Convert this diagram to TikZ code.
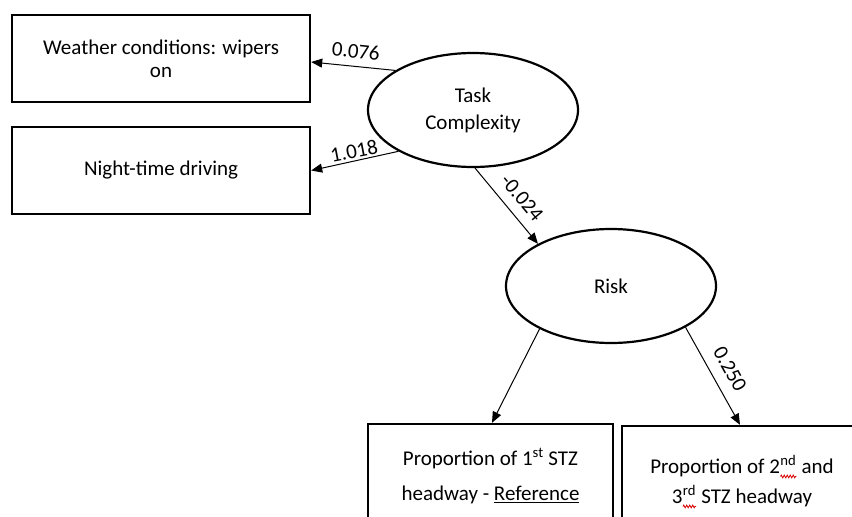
\documentclass[tikz,border=0pt]{standalone}
\usepackage{fontspec}
\setmainfont{Carlito}
\usetikzlibrary{shapes.geometric,arrows.meta,decorations.pathmorphing}

% superscript with a red spell-check wave under it
\newcommand\typomark[1]{\tikz[baseline=(tm.base)]{%
  \node[rectangle,draw=none,inner sep=0pt,outer sep=0pt,
        minimum width=0pt,minimum height=0pt,rotate=0](tm){#1};%
  \draw[red!85!black,line width=0.8pt,decorate,
        decoration={zigzag,amplitude=1.4pt,segment length=3pt}]
    ([yshift=-3pt]tm.base west) -- ([yshift=-3pt]tm.base east);}}

\begin{document}
\begin{tikzpicture}[x=1pt,y=-1pt,
  indicator/.style={draw,line width=2.4pt,rectangle,inner sep=0pt,align=center,
    minimum width=298pt,minimum height=87pt},
  latent/.style={draw,line width=2.2pt,ellipse,inner sep=0pt,align=center,
    minimum width=210pt,minimum height=114pt,font=\fontsize{21}{27}\selectfont},
  path/.style={line width=1pt,-{Triangle[length=11pt,width=9pt]}},
  coef/.style={inner sep=0pt,font=\fontsize{21}{21}\selectfont}
]
\clip (0,0) rectangle (852,517);
\fill[white] (0,0) rectangle (852,517);

% observed indicators
\node[indicator,font=\fontsize{21}{23}\selectfont] (weather) at (161,58.5)
  {Weather conditions: wipers\\on};
\node[indicator,font=\fontsize{21}{23}\selectfont] (night) at (161,170.5)
  {Night-time driving};
\node[indicator,minimum width=245pt,minimum height=104pt,
      font=\fontsize{21}{35}\selectfont] (first) at (490.5,476)
  {Proportion of 1\textsuperscript{st} STZ\\headway - \underline{Reference}};
\node[indicator,minimum width=240pt,minimum height=112pt,
      font=\fontsize{21}{30}\selectfont] (second) at (742,482)
  {Proportion of 2\typomark{\textsuperscript{nd}} and\\3\typomark{\textsuperscript{rd}} STZ headway};

% latent constructs
\node[latent] (task) at (473,110) {Task\\Complexity};
\node[latent] (risk) at (611,286) {Risk};

% paths
\draw[path] (task.153) -- ([yshift=-3.5pt]weather.east);
\draw[path] (task.209.5) -- (night.east);
\draw[path] (task.272) -- (risk.150);
\draw[path] (risk.211) -- ([xshift=1.5pt]first.north);
\draw[path] (risk.331) -- ([xshift=-2pt]second.north);

% path coefficients
\node[coef,rotate=-6] (c1) at (356,51) {0.076};
\node[coef,rotate=11] (c2) at (354,151) {1.018};
\node[coef,rotate=-50] (c3) at (522,198) {-0.024};
\node[coef,rotate=-61] (c4) at (730,369) {0.250};
\end{tikzpicture}
\end{document}
